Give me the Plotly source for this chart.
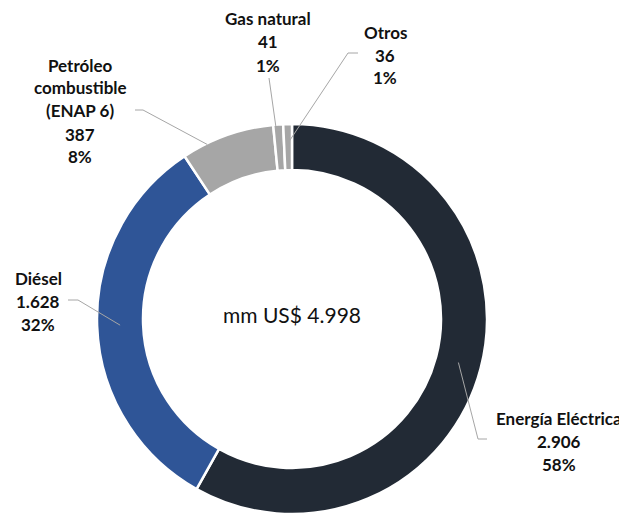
import plotly.graph_objects as go
import math

# ---- data ----
categories = ["Energía Eléctrica", "Diésel", "Petróleo combustible (ENAP 6)", "Gas natural", "Otros"]
label_lines = [["Energía Eléctrica"], ["Diésel"], ["Petróleo", "combustible", "(ENAP 6)"], ["Gas natural"], ["Otros"]]
values = [2906, 1628, 387, 41, 36]
percents = [58, 32, 8, 1, 1]
colors = ["#222a35", "#2f5597", "#a6a6a6", "#a6a6a6", "#a6a6a6"]
center_prefix = "mm US$"

# ---- layout params (reference pixels) ----
VW, VH = 627, 516
OFF = 8  # default page body margin
W, H = VW - OFF, VH - OFF
CX, CY, R = 292, 319, 195
HOLE = 149 / 195
FONT = "Lato"
TXT = "#111111"
LINE_H = 23

# label layout: text center x, first line y, leader start, elbow, anchor fraction in slice, anchor radius
label_layout = [
    dict(tx=559, ty=418, start=(487, 439), elbow=(478, 439), frac=0.5, r=172),
    dict(tx=38, ty=278, start=(68, 300), elbow=(78, 300), frac=0.5, r=172),
    dict(tx=80, ty=65, start=(135, 110), elbow=(143, 110), frac=0.27, r=194),
    dict(tx=268, ty=19, start=(269, 78), elbow=(269, 78), frac=0.5, r=158),
    dict(tx=385, ty=32, start=(358, 53), elbow=(348, 53), frac=0.5, r=176),
]


def fmt(v):
    return f"{v:,}".replace(",", ".")


def px(x):
    return (x - OFF) / W


def py(y):
    return 1 - (y - OFF) / H


total = sum(values)

fig = go.Figure(go.Pie(
    labels=categories,
    values=values,
    hole=HOLE,
    sort=False,
    direction="clockwise",
    rotation=0,
    marker=dict(colors=colors, line=dict(color="white", width=2.5)),
    textinfo="none",
    hoverinfo="label+value+percent",
    showlegend=False,
    domain=dict(x=[px(CX - R), px(CX + R)], y=[py(CY + R), py(CY - R)]),
))

annotations = []
shapes = []
cum = 0
for i, v in enumerate(values):
    L = label_layout[i]
    lines = label_lines[i] + [fmt(v), f"{percents[i]}%"]
    for j, t in enumerate(lines):
        annotations.append(dict(
            x=px(L["tx"]), y=py(L["ty"] + j * LINE_H), xref="paper", yref="paper",
            text=f"<b>{t}</b>", showarrow=False, xanchor="center", yanchor="middle",
            borderpad=0,
            font=dict(family=FONT, size=17, color=TXT),
        ))
    theta = 2 * math.pi * (cum + L["frac"] * v) / total
    ax = CX + L["r"] * math.sin(theta)
    ay = CY - L["r"] * math.cos(theta)
    sx, sy = L["start"]
    ex, ey = L["elbow"]
    path = f"M {px(sx)} {py(sy)} L {px(ex)} {py(ey)} L {px(ax)} {py(ay)}"
    shapes.append(dict(type="path", path=path, xref="paper", yref="paper",
                       line=dict(color="#a6a6a6", width=1)))
    cum += v

annotations.append(dict(
    x=px(CX), y=py(314), xref="paper", yref="paper",
    text=f"{center_prefix} {fmt(total)}", showarrow=False,
    xanchor="center", yanchor="middle",
    font=dict(family=FONT, size=21, color=TXT),
))

fig.update_layout(
    width=W, height=H,
    margin=dict(l=0, r=0, t=0, b=0),
    paper_bgcolor="white", plot_bgcolor="white",
    annotations=annotations, shapes=shapes,
)

fig.write_html("out.html")
